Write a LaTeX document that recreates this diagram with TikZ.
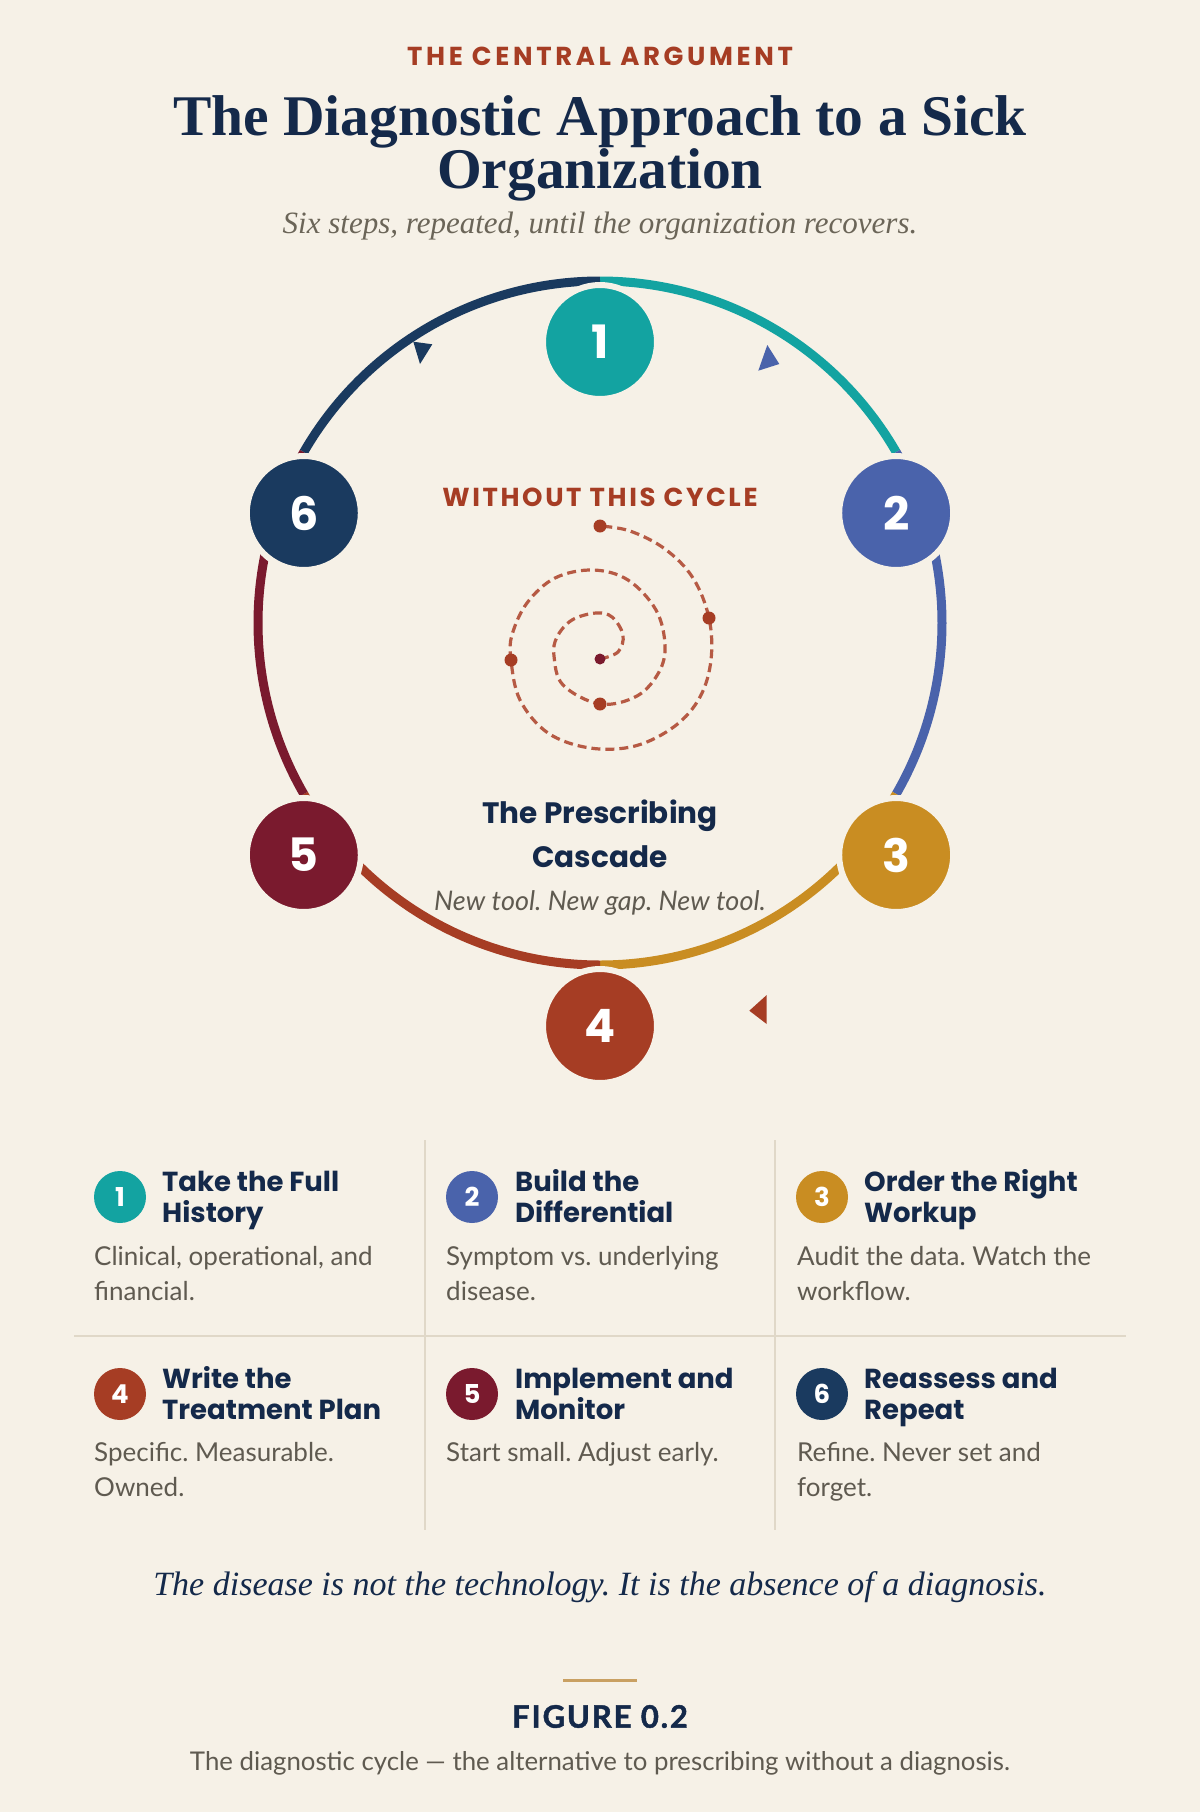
\documentclass[tikz,border=0pt]{standalone}
\usepackage{fontspec}
\usetikzlibrary{calc}
\setmainfont{Lato}
\newfontfamily\pop{Poppins}
\newfontfamily\popsp[LetterSpace=14]{Poppins}
\newfontfamily\popsq[LetterSpace=10]{Poppins}
\newfontfamily\serifx{Liberation Serif}
\newfontfamily\latosp[LetterSpace=6,FakeBold=1.5]{Lato}
\definecolor{bg}{HTML}{F6F1E7}
\definecolor{cteal}{HTML}{13A3A1}
\definecolor{cblue}{HTML}{4A63AB}
\definecolor{cgold}{HTML}{C98D22}
\definecolor{crust}{HTML}{A63D24}
\definecolor{cmaroon}{HTML}{7A1A2E}
\definecolor{cnavy}{HTML}{1A3A5F}
\definecolor{ink}{HTML}{14294A}
\definecolor{greytext}{HTML}{5F5A50}
\definecolor{subgrey}{HTML}{6B6558}
\definecolor{dashc}{HTML}{B65A44}
\definecolor{rule}{HTML}{E0D8C8}
\definecolor{goldrule}{HTML}{C9A062}
\tikzset{
  ring/.style={line width=9pt},
  bignode/.style={circle, minimum size=114pt, inner sep=0pt, draw=bg, line width=6pt, text=white,
    font=\pop\bfseries\fontsize{46}{46}\selectfont},
  smallnode/.style={circle, minimum size=52pt, inner sep=0pt, text=white,
    font=\pop\bfseries\fontsize{26}{26}\selectfont},
  head/.style={anchor=base west, inner sep=0pt, text=ink, font=\pop\bfseries\fontsize{27.5}{30}\selectfont},
  body/.style={anchor=base west, inner sep=0pt, text=greytext, font=\fontsize{26}{30}\selectfont},
  dot/.style={circle, fill=crust, minimum size=13pt, inner sep=0pt},
  spiral/.style={draw=dashc, line width=3.2pt, dash pattern=on 9pt off 5pt},
  ctext/.style={anchor=base, inner sep=0pt},
  sepline/.style={draw=rule, line width=1.5pt}
}
\begin{document}
\frenchspacing
\begin{tikzpicture}[x=1pt,y=-1pt]
\fill[bg] (0,0) rectangle (1200,1812);
\useasboundingbox (0,0) rectangle (1200,1812);

% header
\node[ctext, text=crust, font=\popsp\bfseries\fontsize{26}{26}\selectfont] (kicker) at (600,65.7) {THE CENTRAL ARGUMENT};
\node[ctext, text=ink, font=\serifx\bfseries\fontsize{57.5}{57.5}\selectfont] (title1) at (600,135) {The Diagnostic Approach to a Sick};
\node[ctext, text=ink, font=\serifx\bfseries\fontsize{57.5}{57.5}\selectfont] (title2) at (600,188.3) {Organization};
\node[ctext, text=subgrey, font=\serifx\itshape\fontsize{31}{31}\selectfont] (subtitle) at (600,233.3) {Six steps, repeated, until the organization recovers.};

% ring
\coordinate (rc) at (600,623);
\draw[ring, cteal]   ($(rc)+(-90:342)$) arc[start angle=-90, end angle=-30, radius=342];
\draw[ring, cblue]   ($(rc)+(-30:342)$) arc[start angle=-30, end angle=30, radius=342];
\draw[ring, cgold]   ($(rc)+(30:342)$) arc[start angle=30, end angle=90, radius=342];
\draw[ring, crust]   ($(rc)+(90:342)$) arc[start angle=90, end angle=150, radius=342];
\draw[ring, cmaroon] ($(rc)+(150:342)$) arc[start angle=150, end angle=210, radius=342];
\draw[ring, cnavy]   ($(rc)+(210:342)$) arc[start angle=210, end angle=270, radius=342];

% arrowheads
\fill[cnavy] (413.3,341.7) -- (432.3,344.3) -- (420,364) -- cycle;
\fill[cblue] (767.3,345) -- (779.3,364) -- (758.3,370.7) -- cycle;
\fill[crust] (766.7,995) -- (766.7,1024) -- (749.3,1010.7) -- cycle;

% step nodes
\node[bignode, fill=cteal]   (n1) at (600,342) {1};
\node[bignode, fill=cblue]   (n2) at (896.2,513) {2};
\node[bignode, fill=cgold]   (n3) at (896.2,855) {3};
\node[bignode, fill=crust]   (n4) at (600,1026) {4};
\node[bignode, fill=cmaroon] (n5) at (303.8,855) {5};
\node[bignode, fill=cnavy]   (n6) at (303.8,513) {6};

% centre
\node[ctext, text=crust, font=\popsq\bfseries\fontsize{26}{26}\selectfont] (without) at (600,506.7) {WITHOUT THIS CYCLE};
\draw[spiral] plot[smooth, tension=0.6] coordinates {
 (600,659) (618,652) (623,635) (612,617) (596,613) (572,620) (557,637) (554,656) (563,685)
 (600,704) (637,696) (659,672) (665,645) (656,610) (628,580) (593,570) (555,578) (527,603)
 (512,635) (511,660) (520,700) (548,733) (590,748) (635,746) (675,726) (700,697) (711,660)
 (709,618) (693,578) (665,549) (630,531) (600,526)};
\node[dot] (s1) at (600,526) {};
\node[dot] (s2) at (709,618) {};
\node[dot] (s3) at (511,660) {};
\node[dot] (s4) at (600,704) {};
\node[dot, fill=cmaroon, minimum size=11pt] (s0) at (600,659) {};
\node[ctext, text=ink, font=\pop\bfseries\fontsize{29.5}{29.5}\selectfont] (casc1) at (600,823.3) {The Prescribing};
\node[ctext, text=ink, font=\pop\bfseries\fontsize{29.5}{29.5}\selectfont] (casc2) at (600,867.3) {Cascade};
\node[ctext, text=greytext, font=\itshape\fontsize{27}{27}\selectfont] (casc3) at (600,910) {New tool. New gap. New tool.};

% table
\draw[sepline] (425,1140) -- (425,1530);
\draw[sepline] (775,1140) -- (775,1530);
\draw[sepline] (74,1336) -- (1126,1336);

\node[smallnode, fill=cteal] (k1) at (120,1197) {1};
\node[head] (h1a) at (162,1191) {Take the Full};
\node[head] (h1b) at (162,1222) {History};
\node[body] (b1a) at (94,1265) {Clinical, operational, and};
\node[body] (b1b) at (94,1300) {financial.};

\node[smallnode, fill=cblue] (k2) at (472,1197) {2};
\node[head] (h2a) at (515,1191) {Build the};
\node[head] (h2b) at (515,1222) {Differential};
\node[body] (b2a) at (446,1265) {Symptom vs. underlying};
\node[body] (b2b) at (446,1300) {disease.};

\node[smallnode, fill=cgold] (k3) at (822,1197) {3};
\node[head] (h3a) at (864,1191) {Order the Right};
\node[head] (h3b) at (864,1222) {Workup};
\node[body] (b3a) at (797,1265) {Audit the data. Watch the};
\node[body] (b3b) at (797,1300) {workflow.};

\node[smallnode, fill=crust] (k4) at (120,1394) {4};
\node[head] (h4a) at (162,1388) {Write the};
\node[head] (h4b) at (162,1419) {Treatment Plan};
\node[body] (b4a) at (94,1461) {Specific. Measurable.};
\node[body] (b4b) at (94,1496) {Owned.};

\node[smallnode, fill=cmaroon] (k5) at (472,1394) {5};
\node[head] (h5a) at (515,1388) {Implement and};
\node[head] (h5b) at (515,1419) {Monitor};
\node[body] (b5a) at (446,1461) {Start small. Adjust early.};

\node[smallnode, fill=cnavy] (k6) at (822,1394) {6};
\node[head] (h6a) at (864,1388) {Reassess and};
\node[head] (h6b) at (864,1419) {Repeat};
\node[body] (b6a) at (797,1461) {Refine. Never set and};
\node[body] (b6b) at (797,1496) {forget.};

% footer
\node[ctext, text=ink, font=\serifx\itshape\fontsize{34}{34}\selectfont] (quote) at (600,1595) {The disease is not the technology. It is the absence of a diagnosis.};
\draw[goldrule, line width=3pt] (563,1680) -- (637,1680);
\node[ctext, text=ink, font=\latosp\bfseries\fontsize{31}{31}\selectfont] (fig) at (600,1727.7) {FIGURE 0.2};
\node[ctext, text=greytext, font=\fontsize{25.8}{25.8}\selectfont] (caption) at (600,1770.7) {The diagnostic cycle — the alternative to prescribing without a diagnosis.};
\end{tikzpicture}
\end{document}
